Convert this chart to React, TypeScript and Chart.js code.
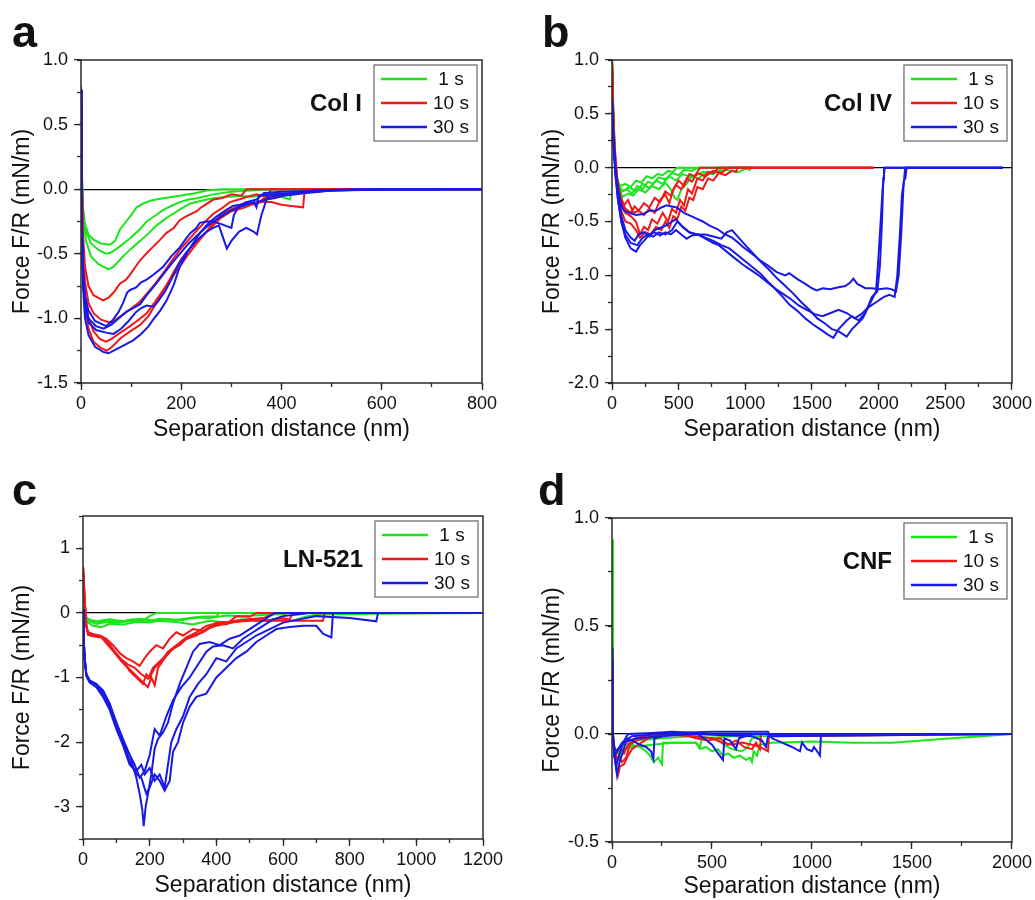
import { useEffect, useRef } from 'react';
import { Chart, registerables } from 'chart.js';

Chart.register(...registerables);

type Pt = [number, number];

// ---------- shared labels ----------
const SERIES_LABELS = ['1 s', '10 s', '30 s'];
const SERIES_COLORS = ['#19e619', '#f01919', '#1919e6'];
const X_TITLE = 'Separation distance (nm)';
const Y_TITLE = 'Force F/R (mN/m)';
const PANEL_LETTERS = ['a', 'b', 'c', 'd'];
const PANEL_TITLES = ['Col I', 'Col IV', 'LN-521', 'CNF'];

// ---------- panel a : Col I ----------
const A_G1: Pt[] = [[0,0.76],[2,0.1],[4,-0.15],[8,-0.27],[15,-0.35],[25,-0.39],[40,-0.42],[58,-0.43],[68,-0.4],[78,-0.31],[90,-0.25],[100,-0.2],[111,-0.14],[125,-0.11],[138,-0.09],[150,-0.08],[164,-0.07],[197,-0.05],[230,-0.03],[250,-0.01],[280,0],[800,0]];
const A_G2: Pt[] = [[0,0.76],[2,0],[5,-0.22],[10,-0.33],[20,-0.42],[35,-0.47],[50,-0.5],[60,-0.49],[75,-0.45],[98,-0.38],[115,-0.32],[131,-0.25],[150,-0.2],[164,-0.16],[180,-0.13],[197,-0.1],[215,-0.08],[231,-0.07],[264,-0.04],[300,-0.02],[340,-0.01],[380,0],[800,0]];
const A_G3: Pt[] = [[0,0.76],[2,0],[5,-0.25],[10,-0.4],[20,-0.52],[35,-0.58],[55,-0.62],[65,-0.6],[84,-0.52],[100,-0.46],[118,-0.4],[135,-0.34],[151,-0.28],[168,-0.23],[184,-0.19],[200,-0.15],[218,-0.11],[240,-0.09],[264,-0.07],[290,-0.06],[317,-0.05],[340,-0.06],[370,-0.04],[400,-0.06],[417,-0.08],[420,-0.01],[500,0],[800,0]];
const A_R1: Pt[] = [[0,0.8],[2,0.1],[4,-0.35],[8,-0.6],[15,-0.75],[25,-0.82],[44,-0.86],[55,-0.84],[65,-0.8],[78,-0.73],[90,-0.7],[100,-0.65],[118,-0.55],[130,-0.5],[140,-0.46],[158,-0.39],[170,-0.34],[185,-0.3],[197,-0.24],[210,-0.21],[231,-0.17],[240,-0.14],[264,-0.08],[280,-0.07],[300,-0.04],[320,-0.05],[330,0],[800,0]];
const A_R2: Pt[] = [[0,0.8],[2,0],[4,-0.45],[8,-0.72],[15,-0.88],[25,-0.96],[40,-1.01],[55,-1.03],[65,-1.02],[80,-0.98],[98,-0.93],[115,-0.88],[131,-0.81],[148,-0.73],[164,-0.65],[180,-0.56],[197,-0.47],[215,-0.39],[231,-0.32],[248,-0.25],[264,-0.19],[280,-0.15],[297,-0.1],[315,-0.08],[330,-0.06],[350,-0.04],[370,-0.06],[380,0],[800,0]];
const A_R3: Pt[] = [[0,0.8],[2,0],[4,-0.5],[8,-0.82],[15,-1.0],[25,-1.1],[38,-1.16],[50,-1.18],[60,-1.16],[75,-1.12],[98,-1.06],[115,-1.01],[131,-0.96],[148,-0.87],[164,-0.78],[180,-0.69],[197,-0.6],[215,-0.5],[231,-0.42],[248,-0.34],[264,-0.26],[280,-0.2],[297,-0.16],[315,-0.13],[330,-0.1],[350,-0.12],[365,-0.07],[400,-0.05],[420,-0.03],[440,-0.02],[470,0],[800,0]];
const A_R4: Pt[] = [[0,0.8],[2,0],[4,-0.55],[8,-0.9],[15,-1.08],[25,-1.18],[40,-1.23],[52,-1.25],[62,-1.22],[80,-1.15],[98,-1.1],[118,-1.05],[135,-0.98],[150,-0.88],[168,-0.76],[185,-0.64],[200,-0.54],[215,-0.47],[231,-0.4],[248,-0.34],[264,-0.28],[280,-0.22],[300,-0.17],[320,-0.15],[340,-0.12],[360,-0.1],[380,-0.1],[400,-0.12],[420,-0.13],[443,-0.14],[446,-0.02],[470,-0.02],[520,0],[800,0]];
const A_B1: Pt[] = [[0,0.77],[1,0.2],[2,-0.3],[4,-0.6],[8,-0.82],[15,-0.94],[28,-1.02],[50,-1.06],[62,-1.02],[75,-0.95],[84,-0.88],[92,-0.8],[98,-0.78],[110,-0.76],[120,-0.72],[131,-0.7],[145,-0.66],[164,-0.6],[180,-0.52],[197,-0.45],[210,-0.38],[218,-0.34],[230,-0.3],[237,-0.26],[250,-0.25],[264,-0.25],[280,-0.27],[300,-0.3],[305,-0.2],[315,-0.13],[330,-0.1],[350,-0.08],[365,-0.03],[400,-0.02],[500,-0.01],[600,-0.005],[700,-0.005],[720,0],[800,0]];
const A_B2: Pt[] = [[0,0.77],[1,0.1],[2,-0.35],[4,-0.7],[8,-0.92],[15,-1.03],[30,-1.09],[50,-1.11],[65,-1.12],[80,-1.08],[95,-1.02],[110,-0.95],[120,-0.92],[131,-0.9],[145,-0.91],[155,-0.86],[168,-0.79],[180,-0.7],[195,-0.58],[210,-0.49],[230,-0.4],[250,-0.33],[264,-0.3],[275,-0.28],[291,-0.46],[300,-0.4],[315,-0.33],[330,-0.3],[345,-0.33],[351,-0.35],[360,-0.2],[372,-0.06],[400,-0.04],[450,-0.03],[500,-0.01],[600,0],[800,0]];
const A_B3: Pt[] = [[0,0.77],[1,0.1],[2,-0.4],[4,-0.75],[8,-1.0],[15,-1.13],[28,-1.22],[45,-1.26],[55,-1.27],[70,-1.24],[90,-1.2],[104,-1.17],[120,-1.12],[135,-1.06],[144,-1.01],[158,-0.94],[171,-0.86],[185,-0.74],[197,-0.6],[215,-0.47],[237,-0.34],[255,-0.26],[271,-0.21],[290,-0.16],[303,-0.13],[330,-0.11],[350,-0.1],[370,-0.08],[385,-0.07],[404,-0.05],[430,-0.04],[460,-0.02],[500,-0.01],[600,0],[800,0]];
const A_B4: Pt[] = [[0,0.77],[1,0.1],[2,-0.3],[4,-0.65],[8,-0.88],[15,-1.0],[30,-1.06],[45,-1.08],[60,-1.05],[75,-1.0],[90,-0.95],[104,-0.92],[118,-0.89],[131,-0.82],[148,-0.74],[164,-0.66],[180,-0.58],[197,-0.5],[215,-0.42],[231,-0.36],[248,-0.3],[264,-0.25],[280,-0.21],[297,-0.17],[315,-0.14],[330,-0.12],[345,-0.1],[350,-0.14],[355,-0.05],[380,-0.04],[420,-0.03],[460,-0.01],[550,0],[800,0]];

// ---------- panel b : Col IV ----------
const B_G1: Pt[] = [[0,1.0],[10,0.5],[20,0.1],[35,-0.1],[60,-0.17],[100,-0.15],[140,-0.18],[180,-0.12],[220,-0.14],[260,-0.08],[300,-0.1],[340,-0.06],[380,-0.07],[420,-0.03],[460,-0.04],[485,0],[1050,0]];
const B_G2: Pt[] = [[0,1.0],[10,0.45],[25,0.05],[40,-0.15],[70,-0.22],[110,-0.2],[150,-0.24],[190,-0.17],[230,-0.2],[270,-0.13],[310,-0.15],[350,-0.09],[400,-0.11],[450,-0.05],[500,-0.07],[540,-0.02],[600,-0.03],[650,0],[1050,0]];
const B_G3: Pt[] = [[0,1.0],[10,0.4],[25,0.0],[45,-0.18],[80,-0.27],[120,-0.24],[160,-0.26],[200,-0.2],[250,-0.23],[300,-0.17],[350,-0.2],[400,-0.14],[440,-0.2],[470,-0.28],[490,-0.3],[520,-0.2],[560,-0.15],[600,-0.08],[650,-0.1],[700,-0.05],[760,-0.06],[810,-0.02],[830,0],[1050,0]];
const B_G4: Pt[] = [[0,1.0],[10,0.4],[25,0.0],[45,-0.15],[80,-0.22],[130,-0.18],[180,-0.22],[230,-0.15],[280,-0.19],[330,-0.12],[380,-0.15],[430,-0.08],[480,-0.12],[530,-0.06],[600,-0.09],[680,-0.04],[760,-0.05],[850,-0.02],[950,-0.04],[1000,-0.01],[1035,-0.02],[1040,0],[1050,0]];
const B_R1: Pt[] = [[0,1.0],[8,0.6],[20,0.2],[40,-0.1],[60,-0.25],[90,-0.35],[120,-0.3],[160,-0.42],[200,-0.4],[240,-0.44],[280,-0.38],[320,-0.42],[360,-0.3],[400,-0.25],[430,-0.33],[460,-0.2],[500,-0.12],[540,-0.17],[580,-0.06],[620,-0.08],[660,0],[1960,0]];
const B_R2: Pt[] = [[0,1.0],[8,0.55],[20,0.15],[40,-0.15],[70,-0.32],[100,-0.42],[140,-0.45],[180,-0.5],[210,-0.62],[240,-0.55],[270,-0.58],[300,-0.48],[340,-0.52],[380,-0.42],[420,-0.5],[450,-0.38],[480,-0.42],[510,-0.3],[540,-0.35],[570,-0.2],[600,-0.24],[640,-0.1],[680,-0.12],[720,-0.04],[760,-0.05],[800,0],[1960,0]];
const B_R3: Pt[] = [[0,1.0],[8,0.5],[20,0.1],[40,-0.2],[70,-0.4],[100,-0.5],[140,-0.52],[180,-0.58],[210,-0.65],[250,-0.6],[290,-0.62],[330,-0.55],[370,-0.58],[400,-0.5],[430,-0.56],[460,-0.45],[490,-0.48],[520,-0.36],[550,-0.4],[580,-0.28],[610,-0.3],[640,-0.18],[680,-0.2],[720,-0.1],[760,-0.12],[800,-0.05],[850,-0.07],[900,-0.03],[930,-0.04],[940,0],[1960,0]];
const B_R4: Pt[] = [[0,1.0],[8,0.5],[20,0.1],[40,-0.15],[70,-0.3],[100,-0.38],[140,-0.42],[170,-0.36],[200,-0.4],[240,-0.33],[280,-0.37],[320,-0.28],[360,-0.32],[400,-0.22],[440,-0.26],[480,-0.16],[520,-0.2],[560,-0.1],[600,-0.13],[640,-0.05],[700,-0.08],[760,-0.03],[820,-0.05],[870,0],[1960,0]];
const B_B1: Pt[] = [[0,0.65],[10,0.3],[25,0],[45,-0.2],[70,-0.35],[90,-0.4],[130,-0.42],[180,-0.44],[235,-0.43],[280,-0.4],[330,-0.4],[370,-0.37],[410,-0.35],[450,-0.36],[485,-0.37],[540,-0.42],[610,-0.46],[680,-0.5],[735,-0.54],[790,-0.57],[835,-0.61],[900,-0.65],[950,-0.7],[985,-0.74],[1050,-0.8],[1110,-0.86],[1170,-0.91],[1235,-0.97],[1300,-1.0],[1330,-0.98],[1385,-1.03],[1450,-1.08],[1500,-1.12],[1535,-1.14],[1580,-1.12],[1635,-1.13],[1700,-1.11],[1750,-1.1],[1785,-1.07],[1810,-1.03],[1840,-1.08],[1900,-1.12],[1950,-1.12],[2000,-1.13],[2060,-1.12],[2100,-1.13],[2130,-1.15],[2150,-1.0],[2170,-0.6],[2185,-0.2],[2195,-0.05],[2200,0],[2930,0]];
const B_B2: Pt[] = [[0,0.65],[10,0.25],[25,-0.05],[45,-0.3],[70,-0.5],[100,-0.65],[140,-0.75],[180,-0.78],[210,-0.72],[240,-0.68],[280,-0.62],[320,-0.6],[360,-0.63],[400,-0.6],[440,-0.62],[480,-0.58],[520,-0.62],[560,-0.66],[600,-0.63],[650,-0.62],[700,-0.65],[760,-0.68],[820,-0.72],[880,-0.75],[930,-0.8],[990,-0.86],[1050,-0.92],[1110,-0.98],[1170,-1.06],[1220,-1.12],[1280,-1.2],[1330,-1.27],[1390,-1.33],[1450,-1.4],[1500,-1.45],[1560,-1.5],[1620,-1.55],[1660,-1.58],[1700,-1.5],[1760,-1.42],[1800,-1.38],[1850,-1.42],[1900,-1.35],[1950,-1.2],[1990,-1.15],[2010,-0.9],[2025,-0.5],[2035,-0.1],[2040,0],[2930,0]];
const B_B3: Pt[] = [[0,0.65],[10,0.25],[25,-0.05],[45,-0.3],[70,-0.5],[100,-0.62],[140,-0.7],[190,-0.72],[230,-0.65],[270,-0.62],[310,-0.64],[350,-0.6],[400,-0.62],[450,-0.58],[490,-0.5],[530,-0.55],[580,-0.6],[630,-0.62],[700,-0.62],[760,-0.64],[820,-0.66],[860,-0.6],[900,-0.58],[950,-0.65],[1000,-0.72],[1060,-0.8],[1120,-0.88],[1180,-0.95],[1240,-1.03],[1300,-1.1],[1360,-1.17],[1420,-1.25],[1480,-1.32],[1540,-1.4],[1600,-1.45],[1650,-1.5],[1700,-1.52],[1760,-1.57],[1800,-1.5],[1840,-1.45],[1880,-1.4],[1920,-1.3],[1960,-1.2],[1980,-1.15],[1995,-0.9],[2010,-0.6],[2030,-0.2],[2045,0],[2930,0]];
const B_B4: Pt[] = [[0,0.65],[10,0.3],[25,0],[45,-0.25],[70,-0.45],[100,-0.58],[140,-0.65],[170,-0.68],[200,-0.62],[240,-0.6],[280,-0.64],[320,-0.58],[360,-0.56],[400,-0.54],[450,-0.5],[480,-0.48],[530,-0.55],[580,-0.6],[640,-0.62],[700,-0.66],[760,-0.7],[800,-0.72],[860,-0.78],[920,-0.84],[980,-0.9],[1040,-0.95],[1100,-1.0],[1160,-1.06],[1220,-1.12],[1280,-1.17],[1340,-1.22],[1400,-1.28],[1460,-1.32],[1520,-1.36],[1580,-1.38],[1640,-1.35],[1700,-1.32],[1760,-1.35],[1820,-1.4],[1870,-1.36],[1920,-1.3],[1980,-1.25],[2040,-1.2],[2080,-1.18],[2120,-1.2],[2140,-1.0],[2160,-0.6],[2175,-0.25],[2190,-0.12],[2200,-0.1],[2210,0],[2930,0]];

// ---------- panel c : LN-521 ----------
const C_G1: Pt[] = [[0,0.3],[5,0],[12,-0.08],[25,-0.12],[50,-0.15],[80,-0.12],[110,-0.14],[150,-0.1],[180,-0.12],[200,-0.05],[220,0],[1200,0]];
const C_G2: Pt[] = [[0,0.3],[5,-0.05],[15,-0.15],[30,-0.2],[55,-0.22],[80,-0.17],[120,-0.18],[160,-0.14],[200,-0.15],[250,-0.1],[300,-0.11],[350,-0.06],[400,-0.05],[410,0],[1200,0]];
const C_G3: Pt[] = [[0,0.3],[5,-0.05],[15,-0.12],[40,-0.17],[70,-0.14],[100,-0.16],[140,-0.12],[180,-0.14],[230,-0.09],[280,-0.11],[330,-0.07],[380,-0.08],[430,-0.04],[480,-0.05],[550,-0.03],[600,-0.02],[620,0],[1200,0]];
const C_G4: Pt[] = [[0,0.3],[5,-0.05],[15,-0.1],[40,-0.13],[80,-0.1],[120,-0.13],[170,-0.09],[220,-0.12],[280,-0.14],[330,-0.18],[380,-0.12],[430,-0.15],[480,-0.1],[530,-0.12],[580,-0.1],[630,-0.12],[660,-0.07],[700,-0.02],[1200,0]];
const C_R1: Pt[] = [[0,0.72],[5,0.2],[10,-0.2],[15,-0.3],[30,-0.33],[50,-0.35],[70,-0.4],[90,-0.5],[110,-0.62],[130,-0.7],[150,-0.75],[170,-0.82],[185,-0.7],[200,-0.6],[220,-0.5],[240,-0.55],[260,-0.4],[280,-0.3],[300,-0.35],[330,-0.25],[360,-0.28],[400,-0.15],[430,-0.18],[460,-0.05],[500,-0.06],[520,0],[1200,0]];
const C_R2: Pt[] = [[0,0.72],[5,0.2],[10,-0.2],[15,-0.32],[30,-0.35],[55,-0.36],[75,-0.45],[95,-0.6],[115,-0.72],[135,-0.8],[155,-0.85],[175,-0.95],[195,-1.02],[210,-0.85],[230,-0.75],[250,-0.65],[270,-0.55],[290,-0.5],[310,-0.4],[340,-0.35],[370,-0.25],[400,-0.2],[450,-0.15],[500,-0.1],[550,-0.12],[600,-0.08],[620,-0.1],[630,0],[1200,0]];
const C_R3: Pt[] = [[0,0.72],[5,0.2],[10,-0.2],[15,-0.34],[30,-0.36],[55,-0.38],[75,-0.5],[95,-0.62],[115,-0.75],[135,-0.85],[155,-0.95],[175,-1.05],[195,-1.15],[205,-1.0],[215,-1.12],[225,-0.85],[245,-0.7],[265,-0.58],[285,-0.5],[305,-0.42],[330,-0.35],[360,-0.3],[390,-0.2],[420,-0.15],[460,-0.12],[500,-0.1],[540,-0.08],[580,0],[1200,0]];
const C_R4: Pt[] = [[0,0.72],[5,0.2],[10,-0.2],[15,-0.3],[30,-0.33],[55,-0.37],[75,-0.48],[95,-0.6],[110,-0.7],[125,-0.78],[140,-0.9],[160,-1.0],[180,-1.1],[190,-0.95],[200,-1.0],[215,-0.85],[235,-0.75],[255,-0.6],[280,-0.5],[310,-0.38],[340,-0.3],[370,-0.2],[410,-0.15],[450,-0.14],[500,-0.12],[560,-0.12],[620,-0.12],[680,-0.12],[720,-0.12],[725,0],[1200,0]];
const C_B1: Pt[] = [[0,0.05],[2,-0.4],[5,-0.7],[10,-0.95],[20,-1.05],[40,-1.1],[60,-1.2],[80,-1.4],[100,-1.7],[120,-1.95],[140,-2.2],[160,-2.55],[170,-2.8],[178,-3.05],[182,-3.3],[188,-3.0],[195,-2.8],[205,-2.5],[215,-2.1],[225,-1.95],[240,-1.85],[255,-1.7],[270,-1.4],[290,-1.1],[310,-0.85],[330,-0.6],[350,-0.48],[380,-0.45],[410,-0.5],[440,-0.4],[470,-0.35],[500,-0.25],[530,-0.15],[560,-0.05],[575,0],[1200,0]];
const C_B2: Pt[] = [[0,0.05],[2,-0.4],[5,-0.7],[10,-0.95],[20,-1.05],[40,-1.12],[60,-1.25],[80,-1.45],[100,-1.75],[120,-2.0],[140,-2.3],[160,-2.5],[175,-2.55],[190,-2.8],[200,-2.7],[215,-2.5],[230,-2.6],[245,-2.75],[260,-2.6],[270,-2.15],[285,-2.0],[300,-1.7],[320,-1.45],[340,-1.3],[370,-1.25],[400,-1.0],[430,-0.85],[460,-0.7],[490,-0.6],[520,-0.45],[550,-0.35],[580,-0.25],[620,-0.22],[660,-0.2],[700,-0.2],[720,-0.32],[745,-0.38],[750,0],[1200,0]];
const C_B3: Pt[] = [[0,0.05],[2,-0.4],[5,-0.72],[10,-0.98],[20,-1.08],[40,-1.15],[60,-1.3],[80,-1.5],[100,-1.8],[120,-2.05],[140,-2.35],[160,-2.45],[175,-2.35],[185,-2.5],[200,-2.4],[215,-2.6],[230,-2.5],[245,-2.7],[255,-2.35],[265,-2.0],[280,-1.8],[300,-1.6],[320,-1.3],[345,-1.1],[370,-0.95],[400,-0.7],[430,-0.75],[460,-0.55],[490,-0.45],[520,-0.35],[560,-0.25],[600,-0.15],[650,-0.1],[700,-0.05],[800,-0.08],[880,-0.13],[885,0],[1200,0]];
const C_B4: Pt[] = [[0,0.05],[2,-0.4],[5,-0.7],[10,-0.95],[20,-1.05],[40,-1.1],[60,-1.22],[80,-1.42],[100,-1.7],[120,-1.98],[140,-2.2],[155,-2.35],[170,-2.55],[185,-2.45],[200,-2.2],[215,-1.8],[230,-1.9],[250,-1.6],[270,-1.35],[295,-1.15],[320,-1.0],[345,-0.8],[370,-0.6],[390,-0.52],[420,-0.5],[450,-0.55],[480,-0.4],[510,-0.3],[540,-0.2],[570,-0.1],[600,-0.05],[650,-0.02],[680,0],[1200,0]];

// ---------- panel d : CNF ----------
const D_G1: Pt[] = [[0,0.9],[2,0.4],[5,0],[10,-0.07],[20,-0.1],[35,-0.12],[50,-0.08],[70,-0.06],[100,-0.05],[140,-0.06],[170,-0.08],[190,-0.1],[210,-0.13],[230,-0.11],[250,-0.14],[255,-0.04],[350,-0.04],[420,-0.04],[440,-0.06],[450,-0.02],[600,-0.01],[2000,0]];
const D_G2: Pt[] = [[0,0.9],[3,0.2],[6,-0.05],[15,-0.1],[40,-0.08],[100,-0.06],[200,-0.05],[300,-0.04],[420,-0.04],[440,-0.07],[470,-0.06],[500,-0.08],[530,-0.07],[555,-0.1],[580,-0.09],[610,-0.11],[640,-0.1],[670,-0.12],[690,-0.11],[700,-0.13],[708,-0.08],[725,-0.1],[740,-0.05],[800,-0.04],[1000,-0.035],[1200,-0.04],[1400,-0.04],[1550,-0.03],[1700,-0.02],[1850,-0.01],[2000,0]];
const D_G3: Pt[] = [[0,0.88],[3,0.1],[6,-0.05],[20,-0.09],[60,-0.05],[120,-0.03],[250,-0.02],[400,-0.01],[520,-0.02],[560,-0.05],[600,-0.07],[650,-0.08],[680,-0.06],[700,-0.02],[800,0],[2000,0]];
const D_R1: Pt[] = [[0,0.3],[4,0],[12,-0.1],[25,-0.16],[30,-0.19],[40,-0.15],[60,-0.14],[80,-0.1],[100,-0.07],[130,-0.05],[180,-0.02],[250,0],[400,-0.01],[500,-0.02],[550,-0.04],[600,-0.05],[650,-0.04],[700,-0.05],[740,-0.06],[760,-0.07],[780,-0.08],[785,-0.01],[2000,0]];
const D_R2: Pt[] = [[0,0.3],[4,0],[15,-0.08],[25,-0.12],[35,-0.1],[50,-0.13],[70,-0.11],[90,-0.05],[120,-0.03],[200,-0.01],[350,0],[420,-0.02],[480,-0.03],[540,-0.02],[580,-0.05],[620,-0.03],[660,-0.06],[700,-0.07],[720,-0.04],[740,-0.07],[745,0],[2000,0]];
const D_R3: Pt[] = [[0,0.25],[4,0],[15,-0.1],[40,-0.06],[60,-0.09],[80,-0.05],[120,-0.02],[200,0],[2000,0]];
const D_B1: Pt[] = [[0,0.4],[3,0.05],[8,-0.05],[15,-0.12],[25,-0.19],[35,-0.14],[55,-0.08],[75,-0.02],[100,-0.03],[140,-0.05],[170,-0.06],[195,-0.08],[207,-0.115],[212,-0.02],[300,0],[2000,0]];
const D_B2: Pt[] = [[0,0.35],[3,0.0],[10,-0.08],[20,-0.15],[35,-0.1],[55,-0.04],[80,0],[200,0.005],[300,0.01],[420,0.005],[460,-0.02],[500,-0.05],[530,-0.09],[555,-0.12],[562,-0.02],[590,-0.03],[620,-0.07],[635,-0.02],[700,0],[2000,0]];
const D_B3: Pt[] = [[0,0.3],[3,0],[10,-0.06],[25,-0.08],[50,-0.04],[100,-0.01],[300,0.005],[500,0.01],[780,0.01],[800,-0.02],[850,-0.04],[900,-0.06],[940,-0.08],[950,-0.04],[975,-0.07],[1000,-0.08],[1010,-0.06],[1040,-0.1],[1045,0],[2000,0]];
const D_B4: Pt[] = [[0,0.25],[3,0],[12,-0.1],[30,-0.07],[60,-0.04],[120,-0.02],[250,-0.01],[400,0],[700,-0.01],[750,-0.03],[770,-0.06],[780,-0.01],[2000,0]];

// ---------- axis ranges & tick labels ----------
const X_RANGES: Pt[] = [[0, 800], [0, 3000], [0, 1200], [0, 2000]];
const Y_RANGES: Pt[] = [[-1.5, 1.0], [-2.0, 1.0], [-3.5, 1.5], [-0.5, 1.0]];
const A_X_TICKS = [0, 200, 400, 600, 800];
const B_X_TICKS = [0, 500, 1000, 1500, 2000, 2500, 3000];
const C_X_TICKS = [0, 200, 400, 600, 800, 1000, 1200];
const D_X_TICKS = [0, 500, 1000, 1500, 2000];
const A_Y_TICKS = [-1.5, -1.0, -0.5, 0, 0.5, 1.0];
const B_Y_TICKS = [-2.0, -1.5, -1.0, -0.5, 0, 0.5, 1.0];
const C_Y_TICKS = [-3, -2, -1, 0, 1];
const D_Y_TICKS = [-0.5, 0, 0.5, 1.0];
const X_TICKS = [A_X_TICKS, B_X_TICKS, C_X_TICKS, D_X_TICKS];
const Y_TICKS = [A_Y_TICKS, B_Y_TICKS, C_Y_TICKS, D_Y_TICKS];
const X_MINOR_STEP = [100, 250, 100, 250];
const Y_MINOR_STEP = [0.25, 0.25, 0.5, 0.25];
const Y_DECIMALS = [1, 1, 0, 1];

const CURVES: Pt[][][][] = [
  [[A_G1, A_G2, A_G3], [A_R1, A_R2, A_R3, A_R4], [A_B1, A_B2, A_B3, A_B4]],
  [[B_G1, B_G2, B_G3, B_G4], [B_R1, B_R2, B_R3, B_R4], [B_B1, B_B2, B_B3, B_B4]],
  [[C_G1, C_G2, C_G3, C_G4], [C_R1, C_R2, C_R3, C_R4], [C_B1, C_B2, C_B3, C_B4]],
  [[D_G1, D_G2, D_G3], [D_R1, D_R2, D_R3], [D_B1, D_B2, D_B3, D_B4]],
];

// ---------- layout (canvas placement & frame geometry) ----------
const FONT = '"Liberation Sans", Arial, Helvetica, sans-serif';
const AXIS = '#2a2a2a';
const LAYOUT = [
  { left: 0, top: 0, w: 517, h: 450, padTop: 60, padRight: 35, yW: 81, xH: 67, yTitlePad: 9, xTitlePad: 7, letterX: 12, letterY: 47 },
  { left: 517, top: 0, w: 518, h: 450, padTop: 60, padRight: 23, yW: 95, xH: 67, yTitlePad: 22, xTitlePad: 7, letterX: 25, letterY: 47 },
  { left: 0, top: 450, w: 517, h: 450, padTop: 66, padRight: 34, yW: 83, xH: 61, yTitlePad: 9, xTitlePad: 1, letterX: 12, letterY: 55 },
  { left: 517, top: 450, w: 518, h: 450, padTop: 68, padRight: 22, yW: 95, xH: 58, yTitlePad: 22, xTitlePad: 0, letterX: 21, letterY: 55 },
];

function minorTicks(min: number, max: number, step: number) {
  const out: { value: number }[] = [];
  const n0 = Math.ceil(min / step - 1e-9);
  const n1 = Math.floor(max / step + 1e-9);
  for (let n = n0; n <= n1; n++) out.push({ value: Math.round(n * step * 1e6) / 1e6 });
  return out;
}

function decorPlugin(i: number) {
  const L = LAYOUT[i];
  return {
    id: 'decor' + i,
    afterDraw(chart: any) {
      const { ctx, chartArea: a } = chart;
      ctx.save();
      ctx.strokeStyle = AXIS;
      ctx.lineWidth = 1.5;
      ctx.strokeRect(a.left, a.top, a.right - a.left, a.bottom - a.top);
      const bx = a.right - 108, by = a.top + 5, bw = 103, bh = 76;
      ctx.fillStyle = '#fff';
      ctx.fillRect(bx, by, bw, bh);
      ctx.strokeStyle = '#666';
      ctx.lineWidth = 1.2;
      ctx.strokeRect(bx, by, bw, bh);
      ctx.font = `19px ${FONT}`;
      ctx.textAlign = 'center';
      ctx.textBaseline = 'middle';
      SERIES_LABELS.forEach((lab, k) => {
        const ry = by + 14 + k * 24;
        ctx.strokeStyle = SERIES_COLORS[k];
        ctx.lineWidth = 2.5;
        ctx.beginPath();
        ctx.moveTo(bx + 7, ry);
        ctx.lineTo(bx + 53, ry);
        ctx.stroke();
        ctx.fillStyle = '#111';
        ctx.fillText(lab, bx + 77, ry + 1);
      });
      ctx.font = `bold 24px ${FONT}`;
      ctx.textAlign = 'right';
      ctx.fillStyle = '#111';
      ctx.fillText(PANEL_TITLES[i], bx - 12, by + 39);
      ctx.font = `bold 45px ${FONT}`;
      ctx.textAlign = 'left';
      ctx.textBaseline = 'alphabetic';
      ctx.fillText(PANEL_LETTERS[i], L.letterX, L.letterY);
      ctx.restore();
    },
  };
}

function buildConfig(i: number): any {
  const L = LAYOUT[i];
  const [xMin, xMax] = X_RANGES[i];
  const [yMin, yMax] = Y_RANGES[i];
  const dec = Y_DECIMALS[i];
  const datasets: any[] = [];
  [2, 1, 0].forEach((g) => {
    CURVES[i][g].forEach((curve) => {
      datasets.push({
        data: curve.map(([x, y]) => ({ x, y })),
        borderColor: SERIES_COLORS[g],
        backgroundColor: SERIES_COLORS[g],
        borderWidth: 2,
        pointRadius: 0,
        tension: 0,
        fill: false,
        xAxisID: 'x',
        yAxisID: 'y',
      });
    });
  });
  const tickFont = { family: FONT, size: 18 };
  const titleFont = { family: FONT, size: 23 };
  return {
    type: 'line',
    data: { datasets },
    options: {
      responsive: false,
      animation: false,
      devicePixelRatio: 1,
      layout: { padding: { left: 0, top: L.padTop, right: L.padRight, bottom: 0 } },
      plugins: { legend: { display: false }, tooltip: { enabled: false } },
      scales: {
        xm: {
          type: 'linear', position: 'bottom', weight: 0, min: xMin, max: xMax,
          ticks: { display: false, autoSkip: false },
          afterBuildTicks: (s: any) => { s.ticks = minorTicks(xMin, xMax, X_MINOR_STEP[i]); },
          grid: { drawOnChartArea: false, drawTicks: true, tickLength: 4, tickColor: AXIS, tickWidth: 1.3 },
          border: { display: false },
          afterFit: (s: any) => { s.height = 0; },
        },
        x: {
          type: 'linear', position: 'bottom', weight: 1, min: xMin, max: xMax,
          ticks: {
            autoSkip: false, maxRotation: 0, minRotation: 0, padding: 3, color: '#111', font: tickFont,
            callback: (v: any) => String(Math.round(Number(v))),
          },
          afterBuildTicks: (s: any) => { s.ticks = X_TICKS[i].map((v) => ({ value: v })); },
          grid: { drawOnChartArea: false, drawTicks: true, tickLength: 7, tickColor: AXIS, tickWidth: 1.3 },
          border: { display: false },
          title: { display: true, text: X_TITLE, color: '#111', font: titleFont, padding: { top: 0, bottom: L.xTitlePad } },
          afterFit: (s: any) => { s.height = L.xH; },
        },
        ym: {
          type: 'linear', position: 'left', weight: 0, min: yMin, max: yMax,
          ticks: { display: false, autoSkip: false },
          afterBuildTicks: (s: any) => { s.ticks = minorTicks(yMin, yMax, Y_MINOR_STEP[i]); },
          grid: { drawOnChartArea: false, drawTicks: true, tickLength: 4, tickColor: AXIS, tickWidth: 1.3 },
          border: { display: false },
          afterFit: (s: any) => { s.width = 0; },
        },
        y: {
          type: 'linear', position: 'left', weight: 1, min: yMin, max: yMax,
          ticks: {
            autoSkip: false, padding: 6, color: '#111', font: tickFont,
            callback: (v: any) => (Math.round(Number(v) * 100) / 100).toFixed(dec),
          },
          afterBuildTicks: (s: any) => { s.ticks = Y_TICKS[i].map((v) => ({ value: v })); },
          grid: {
            drawOnChartArea: true, drawTicks: true, tickLength: 7, tickColor: AXIS, tickWidth: 1.3,
            color: (c: any) => (c.tick && Math.abs(c.tick.value) < 1e-9 ? '#000' : 'rgba(0,0,0,0)'),
            lineWidth: 1.2,
          },
          border: { display: false },
          title: { display: true, text: Y_TITLE, color: '#111', font: titleFont, padding: { top: L.yTitlePad, bottom: 0 } },
          afterFit: (s: any) => { s.width = L.yW; },
        },
      },
    },
    plugins: [decorPlugin(i)],
  };
}

function Panel({ index }: { index: number }) {
  const ref = useRef<HTMLCanvasElement>(null);
  const L = LAYOUT[index];
  useEffect(() => {
    const chart = new Chart(ref.current as HTMLCanvasElement, buildConfig(index));
    return () => chart.destroy();
  }, [index]);
  return (
    <canvas
      ref={ref}
      width={L.w}
      height={L.h}
      style={{ position: 'absolute', left: L.left, top: L.top, width: L.w, height: L.h }}
    />
  );
}

export default function App() {
  return (
    <div style={{ position: 'absolute', left: 0, top: 0, width: 1035, height: 900, background: '#fff', overflow: 'hidden' }}>
      {[0, 1, 2, 3].map((i) => (
        <Panel key={i} index={i} />
      ))}
    </div>
  );
}
